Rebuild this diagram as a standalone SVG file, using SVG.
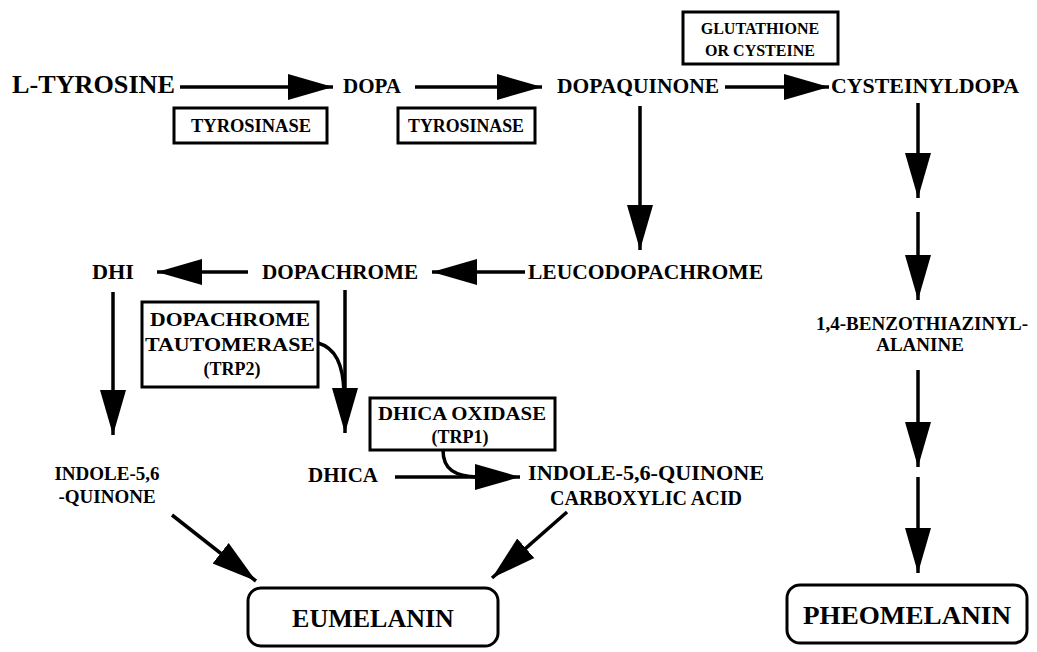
<svg xmlns="http://www.w3.org/2000/svg" width="1037" height="652" viewBox="0 0 1037 652">
<defs>
<marker id="ah" markerUnits="userSpaceOnUse" markerWidth="46" markerHeight="28" refX="45" refY="14" orient="auto">
<path d="M0,1 L45,14 L0,27 z" fill="#000"/>
</marker>
<style>
text{font-family:"Liberation Serif","Times New Roman",serif;font-weight:bold;fill:#000}
.lbl{font-size:21px}
.big{font-size:26px}
.enz{font-size:18px;text-anchor:middle}
.end{font-size:26px;text-anchor:middle}
.mid{text-anchor:middle}
.box{fill:#fff;stroke:#000;stroke-width:3}
.arr{stroke:#000;stroke-width:3.5;fill:none;marker-end:url(#ah)}
.crv{stroke:#000;stroke-width:3.5;fill:none}
</style>
</defs>
<rect width="1037" height="652" fill="#fff"/>
<g id="connectors">
<line class="arr" x1="180" y1="87" x2="333" y2="87"/>
<line class="arr" x1="415" y1="87" x2="542" y2="87"/>
<line class="arr" x1="725" y1="87" x2="829" y2="87"/>
<line class="arr" x1="640" y1="106" x2="640" y2="250"/>
<line class="arr" x1="918" y1="103" x2="918" y2="198"/>
<line class="arr" x1="918" y1="212" x2="918" y2="300"/>
<line class="arr" x1="525" y1="272" x2="432" y2="272"/>
<line class="arr" x1="248" y1="272" x2="157" y2="272"/>
<line class="arr" x1="113" y1="292" x2="113" y2="435"/>
<line class="arr" x1="345" y1="290" x2="345" y2="433"/>
<path class="crv" d="M318,343 C336,348 343,365 344,392"/>
<line class="arr" x1="395" y1="477" x2="520" y2="477"/>
<path class="crv" d="M443,450 C443,470 455,476 478,477"/>
<line class="arr" x1="918" y1="370" x2="918" y2="467"/>
<line class="arr" x1="918" y1="477" x2="918" y2="573"/>
<line class="arr" x1="172" y1="515" x2="256" y2="581"/>
<line class="arr" x1="567" y1="512" x2="492" y2="578"/>
</g>
<g id="l-tyrosine"><text class="big" x="12" y="93" textLength="163" lengthAdjust="spacingAndGlyphs">L-TYROSINE</text></g>
<g id="dopa"><text class="lbl" x="343" y="93" textLength="58" lengthAdjust="spacingAndGlyphs">DOPA</text></g>
<g id="dopaquinone"><text class="lbl" x="557" y="93" textLength="162" lengthAdjust="spacingAndGlyphs">DOPAQUINONE</text></g>
<g id="cysteinyldopa"><text class="lbl" x="831" y="93" textLength="188" lengthAdjust="spacingAndGlyphs">CYSTEINYLDOPA</text></g>
<g id="tyrosinase1"><rect class="box" x="174" y="108" width="153" height="35"/><text class="enz" x="251" y="132" textLength="120" lengthAdjust="spacingAndGlyphs">TYROSINASE</text></g>
<g id="tyrosinase2"><rect class="box" x="398" y="108" width="137" height="35"/><text class="enz" x="466" y="132" textLength="116" lengthAdjust="spacingAndGlyphs">TYROSINASE</text></g>
<g id="glutathione"><rect class="box" x="683" y="12" width="155" height="52"/><text class="enz" x="760" y="34" style="font-size:16px">GLUTATHIONE</text><text class="enz" x="760" y="56" style="font-size:16px">OR CYSTEINE</text></g>
<g id="leucodopachrome"><text class="lbl" x="528" y="279" textLength="235" lengthAdjust="spacingAndGlyphs">LEUCODOPACHROME</text></g>
<g id="dopachrome"><text class="lbl" x="262" y="279" textLength="156" lengthAdjust="spacingAndGlyphs">DOPACHROME</text></g>
<g id="dhi"><text class="lbl" x="92" y="279" textLength="42" lengthAdjust="spacingAndGlyphs">DHI</text></g>
<g id="trp2"><rect class="box" x="142" y="302" width="176" height="85"/><text class="enz" x="230" y="326" textLength="160" lengthAdjust="spacingAndGlyphs">DOPACHROME</text><text class="enz" x="230" y="351" textLength="170" lengthAdjust="spacingAndGlyphs">TAUTOMERASE</text><text class="enz" x="232" y="375">(TRP2)</text></g>
<g id="benzothiazinylalanine"><text class="mid" x="922" y="330" style="font-size:19px" textLength="212" lengthAdjust="spacingAndGlyphs">1,4-BENZOTHIAZINYL-</text><text class="mid" x="920" y="351" style="font-size:19px">ALANINE</text></g>
<g id="trp1"><rect class="box" x="370" y="398" width="185" height="52"/><text class="enz" x="462" y="420" textLength="168" lengthAdjust="spacingAndGlyphs">DHICA OXIDASE</text><text class="enz" x="460" y="443">(TRP1)</text></g>
<g id="dhica"><text class="lbl" x="308" y="482" textLength="70" lengthAdjust="spacingAndGlyphs">DHICA</text></g>
<g id="indole-quinone"><text class="lbl mid" x="107" y="480" style="font-size:19px">INDOLE-5,6</text><text class="lbl mid" x="107" y="503" style="font-size:19px">-QUINONE</text></g>
<g id="indole-quinone-carboxylic"><text class="lbl" x="528" y="480" textLength="236" lengthAdjust="spacingAndGlyphs">INDOLE-5,6-QUINONE</text><text class="lbl mid" x="646" y="505" textLength="192" lengthAdjust="spacingAndGlyphs">CARBOXYLIC ACID</text></g>
<g id="eumelanin"><rect class="box" x="248" y="588" width="250" height="58" rx="13"/><text class="end" x="373" y="627">EUMELANIN</text></g>
<g id="pheomelanin"><rect class="box" x="787" y="585" width="240" height="58" rx="13"/><text class="end" x="907" y="624" textLength="208" lengthAdjust="spacingAndGlyphs">PHEOMELANIN</text></g>
</svg>
